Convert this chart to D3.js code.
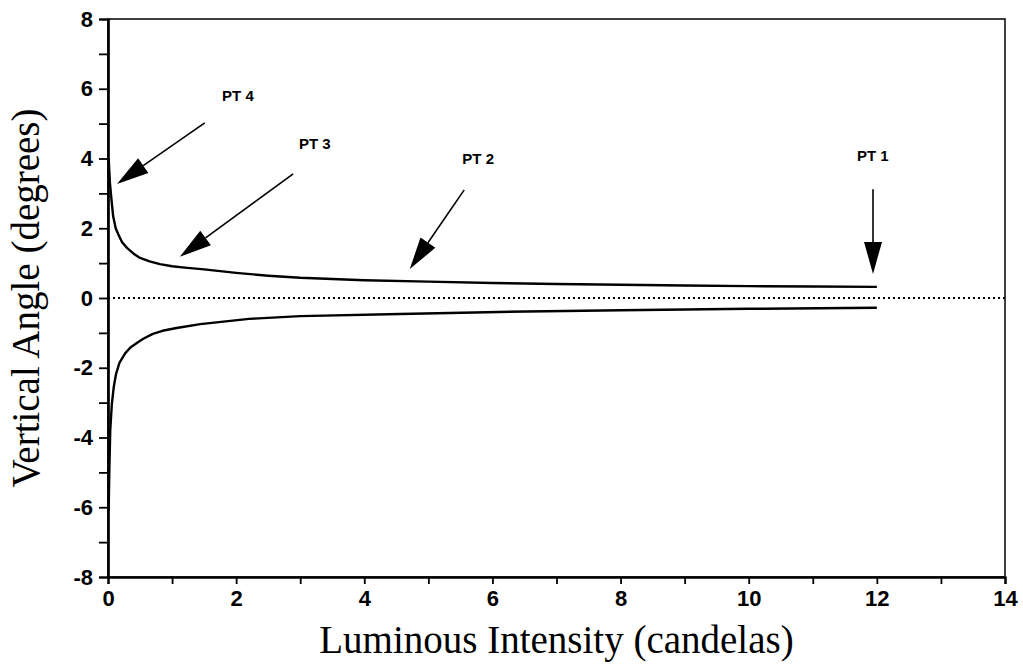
<!DOCTYPE html>
<html>
<head>
<meta charset="utf-8">
<script src="https://cdn.jsdelivr.net/npm/d3@7"></script>
<style>
  body { margin: 0; background: #fff; }
  svg { display: block; }
</style>
</head>
<body>
<svg id="chart" width="1023" height="665"></svg>
<script>
// values
const xTicks = [0, 2, 4, 6, 8, 10, 12, 14];
const xMinorTicks = [1, 3, 5, 7, 9, 11, 13];
const yTicks = [-8, -6, -4, -2, 0, 2, 4, 6, 8];
const yMinorTicks = [-7, -5, -3, -1, 1, 3, 5, 7];

const upperCurve = [
  [0.01, 4.0], [0.03, 3.3], [0.05, 2.9], [0.08, 2.35], [0.12, 2.0], [0.16, 1.83],
  [0.22, 1.6], [0.3, 1.43], [0.4, 1.27], [0.5, 1.15], [0.65, 1.05], [0.81, 0.97],
  [1.0, 0.91], [1.2, 0.87], [1.5, 0.82], [2.0, 0.72], [2.5, 0.64], [3.0, 0.58],
  [4.0, 0.51], [5.0, 0.47], [6.0, 0.43], [7.0, 0.4], [8.0, 0.38], [9.0, 0.36],
  [10.0, 0.34], [11.0, 0.33], [12.0, 0.32]
];

const lowerCurve = [
  [0.01, -6.1], [0.02, -5.0], [0.035, -3.8], [0.06, -3.04], [0.09, -2.55],
  [0.125, -2.18], [0.18, -1.85], [0.27, -1.58], [0.35, -1.42], [0.45, -1.29],
  [0.55, -1.17], [0.7, -1.03], [0.85, -0.94], [1.07, -0.86], [1.44, -0.75],
  [2.2, -0.6], [3.0, -0.52], [4.56, -0.46], [6.1, -0.4], [8.0, -0.35],
  [10.0, -0.31], [12.0, -0.28]
];

// annotation arrows: label position, arrow tail and tip (data units)
const annotations = [
  { label: "PT 4", lx: 1.78, ly: 5.65, x0: 1.51, y0: 5.02, x1: 0.14, y1: 3.27 },
  { label: "PT 3", lx: 2.98, ly: 4.27, x0: 2.89, y0: 3.56, x1: 1.12, y1: 1.18 },
  { label: "PT 2", lx: 5.53, ly: 3.84, x0: 5.56, y0: 3.1, x1: 4.71, y1: 0.83 },
  { label: "PT 1", lx: 11.69, ly: 3.93, x0: 11.94, y0: 3.12, x1: 11.94, y1: 0.69 }
];

const margin = { top: 19, right: 18, bottom: 88, left: 108 };
const width = 1023, height = 665;

const svg = d3.select("#chart");

const x = d3.scaleLinear().domain([0, 14]).range([margin.left, width - margin.right]);
const y = d3.scaleLinear().domain([-8, 8]).range([height - margin.bottom, margin.top]);

const sansFont = "'Liberation Sans', Arial, Helvetica, sans-serif";
const serifFont = "'Liberation Serif', 'Times New Roman', Times, serif";

// zero reference line (dotted)
svg.append("line")
  .attr("x1", x(0)).attr("x2", x(14))
  .attr("y1", y(0)).attr("y2", y(0))
  .attr("stroke", "#000")
  .attr("stroke-width", 2)
  .attr("stroke-dasharray", "2,3");

// frame
svg.append("rect")
  .attr("x", x(0)).attr("y", y(8))
  .attr("width", x(14) - x(0)).attr("height", y(-8) - y(8))
  .attr("fill", "none")
  .attr("stroke", "#000")
  .attr("stroke-width", 1.5);

// axes
const fmt = d => String(d);

const xAxis = svg.append("g")
  .attr("transform", `translate(0,${y(-8)})`)
  .call(d3.axisBottom(x).tickValues(xTicks).tickSize(7).tickSizeOuter(0).tickPadding(6).tickFormat(fmt));
xAxis.append("g")
  .call(d3.axisBottom(x).tickValues(xMinorTicks).tickSize(7).tickFormat(""));

const yAxis = svg.append("g")
  .attr("transform", `translate(${x(0)},0)`)
  .call(d3.axisLeft(y).tickValues(yTicks).tickSize(9).tickSizeOuter(0).tickPadding(6).tickFormat(fmt));
yAxis.append("g")
  .call(d3.axisLeft(y).tickValues(yMinorTicks).tickSize(9).tickFormat(""));

svg.selectAll(".domain").attr("stroke", "#000").attr("stroke-width", 2.2);
svg.selectAll(".tick line").attr("stroke", "#000").attr("stroke-width", 1.8);
svg.selectAll(".tick text")
  .attr("fill", "#000")
  .style("font-family", sansFont)
  .style("font-weight", "bold")
  .style("font-size", "22px");

// curves
const line = d3.line().x(d => x(d[0])).y(d => y(d[1])).curve(d3.curveLinear);

[upperCurve, lowerCurve].forEach(c => {
  svg.append("path")
    .datum(c)
    .attr("d", line)
    .attr("fill", "none")
    .attr("stroke", "#000")
    .attr("stroke-width", 2.4)
    .attr("stroke-linejoin", "round");
});

// annotations
const headLen = 32, headHalf = 9;
const ann = svg.append("g").attr("class", "annotations");

annotations.forEach(a => {
  const px0 = x(a.x0), py0 = y(a.y0), px1 = x(a.x1), py1 = y(a.y1);
  const dx = px1 - px0, dy = py1 - py0;
  const len = Math.hypot(dx, dy);
  const ux = dx / len, uy = dy / len;
  const bx = px1 - ux * headLen, by = py1 - uy * headLen;

  ann.append("line")
    .attr("x1", px0).attr("y1", py0)
    .attr("x2", bx).attr("y2", by)
    .attr("stroke", "#000")
    .attr("stroke-width", 1.6);

  ann.append("path")
    .attr("d", `M${px1},${py1} L${bx - uy * headHalf},${by + ux * headHalf} L${bx + uy * headHalf},${by - ux * headHalf} Z`)
    .attr("fill", "#000");

  ann.append("text")
    .attr("x", x(a.lx)).attr("y", y(a.ly))
    .style("font-family", sansFont)
    .style("font-weight", "bold")
    .style("font-size", "15px")
    .text(a.label);
});

// axis titles
svg.append("text")
  .attr("x", (x(0) + x(14)) / 2)
  .attr("y", 653)
  .attr("text-anchor", "middle")
  .style("font-family", serifFont)
  .style("font-size", "39px")
  .text("Luminous Intensity (candelas)");

svg.append("text")
  .attr("transform", `translate(39,${y(0)}) rotate(-90)`)
  .attr("text-anchor", "middle")
  .style("font-family", serifFont)
  .style("font-size", "39px")
  .text("Vertical Angle (degrees)");
</script>
</body>
</html>
